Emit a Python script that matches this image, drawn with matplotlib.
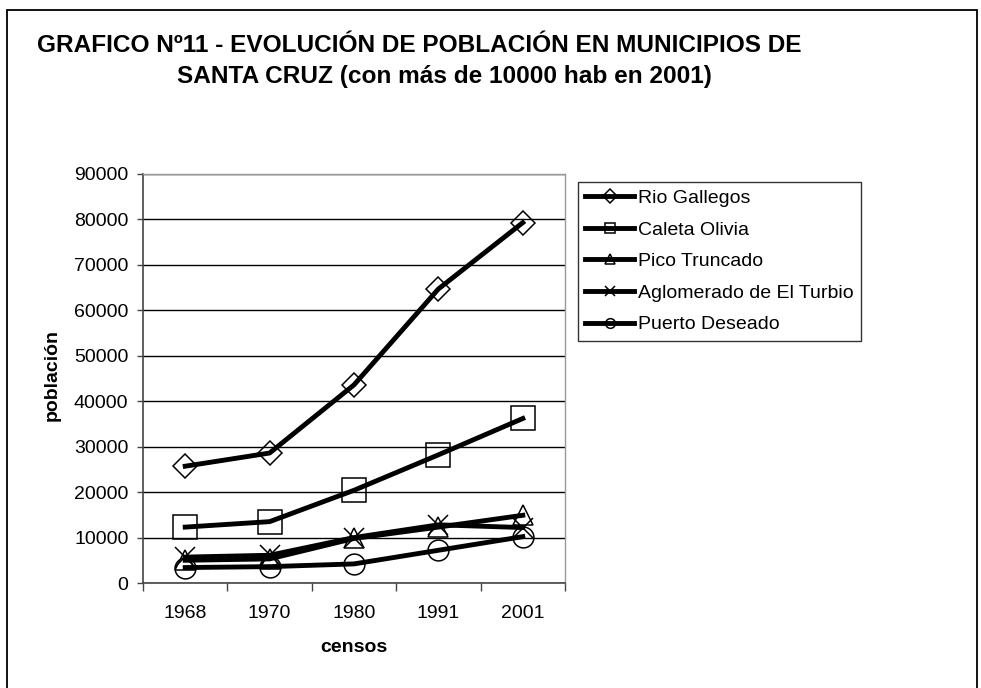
import matplotlib
matplotlib.use("Agg")
import matplotlib.pyplot as plt
from matplotlib.patches import Rectangle

plt.rcParams['font.family'] = ['Liberation Sans', 'DejaVu Sans']

censos = ["1968", "1970", "1980", "1991", "2001"]
rio_gallegos = [25700, 28600, 43600, 64700, 79300]
caleta_olivia = [12300, 13500, 20400, 28200, 36200]
pico_truncado = [5000, 5300, 9800, 12300, 14900]
el_turbio = [5700, 6100, 10000, 12800, 12200]
puerto_deseado = [3400, 3600, 4200, 7200, 10200]

series = [
    ("Rio Gallegos", rio_gallegos, "D", 12),
    ("Caleta Olivia", caleta_olivia, "s", 17),
    ("Pico Truncado", pico_truncado, "^", 15),
    ("Aglomerado de El Turbio", el_turbio, "x", 15),
    ("Puerto Deseado", puerto_deseado, "o", 15),
]

W, H = 981, 688
fig = plt.figure(figsize=(W / 100, H / 100), dpi=100)
fig.patch.set_facecolor("white")

# outer border
fig.add_artist(Rectangle((7 / W, -0.05), (977 - 7) / W, (H - 10) / H + 0.05,
                         transform=fig.transFigure, fill=False,
                         edgecolor="black", lw=1.3, clip_on=False))

ax = fig.add_axes([143 / W, 1 - 583 / H, (565 - 143) / W, (583 - 174) / H])
x = list(range(len(censos)))
handles = []
for name, vals, mk, ms in series:
    h, = ax.plot(x, vals, color="black", lw=3.5, marker=mk, ms=ms,
                 fillstyle="none", mec="black", mew=1.1, label=name,
                 solid_joinstyle="round", zorder=3)
    handles.append(h)

ax.set_xlim(-0.5, 4.5)
ax.set_ylim(0, 90000)
ax.set_yticks(range(0, 90001, 10000))
ax.set_yticklabels([str(v) for v in range(0, 90001, 10000)])
ax.grid(axis="y", color="black", lw=1.0, zorder=1)
ax.set_axisbelow(True)

ax.set_xticks([i - 0.5 for i in range(len(censos) + 1)])
ax.set_xticklabels([""] * (len(censos) + 1))
ax.set_xticks(x, minor=True)
ax.set_xticklabels(censos, minor=True)
ax.tick_params(axis="x", which="major", length=6, width=1, color="#444444", direction="out")
ax.tick_params(axis="x", which="minor", length=0, pad=16, labelsize=14)
ax.tick_params(axis="y", length=4.5, width=1, color="#444444", pad=6, labelsize=14)

for side in ["top", "right"]:
    ax.spines[side].set_color("#999999")
    ax.spines[side].set_linewidth(1)
for side in ["left", "bottom"]:
    ax.spines[side].set_color("#444444")
    ax.spines[side].set_linewidth(1.2)

fig.text(52 / W, 1 - 375 / H, "población", rotation=90, fontsize=14,
         fontweight="bold", ha="center", va="center")
fig.text(354 / W, 1 - 648 / H, "censos", fontsize=14, fontweight="bold",
         ha="center", va="center")

fig.text(37 / W, 1 - 46 / H,
         "GRAFICO Nº11 - EVOLUCIÓN DE POBLACIÓN EN MUNICIPIOS DE",
         fontsize=17.6, fontweight="bold", ha="left", va="center")
fig.text(177 / W, 1 - 76 / H,
         "SANTA CRUZ (con más de 10000 hab en 2001)",
         fontsize=17.6, fontweight="bold", ha="left", va="center")

leg = fig.legend(handles=handles, loc="upper left",
                 bbox_to_anchor=(578 / W, 1 - 182 / H),
                 bbox_transform=fig.transFigure, borderaxespad=0,
                 fontsize=14, frameon=True, fancybox=False,
                 edgecolor="black", handlelength=2.5, handletextpad=0.2,
                 labelspacing=0.72, borderpad=0.38)
leg.get_frame().set_linewidth(1.0)
for lh in leg.legend_handles:
    lh.set_markersize(7)
    lh.set_linewidth(3.5)

fig.savefig("out.png", dpi=100)
